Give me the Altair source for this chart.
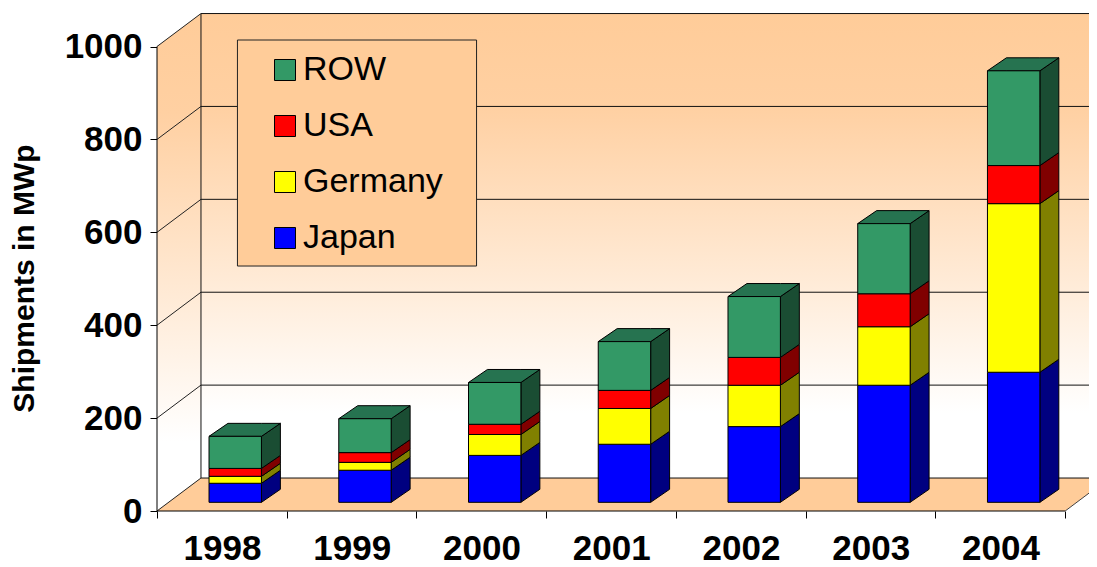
import altair as alt
import pandas as pd

years = ["1998", "1999", "2000", "2001", "2002", "2003", "2004"]
series = ["Japan", "Germany", "USA", "ROW"]
japan = [41, 69, 101, 125, 163, 252, 280]
germany = [15, 17, 45, 77, 89, 126, 363]
usa = [17, 21, 22, 39, 60, 71, 82]
row = [69, 73, 90, 105, 131, 151, 204]
y_ticks = [0, 200, 400, 600, 800, 1000]
legend_order = ["ROW", "USA", "Germany", "Japan"]
front_colors = ["#339966", "#FF0000", "#FFFF00", "#0000FF"]
side_colors = ["#1A4D33", "#800000", "#808000", "#000080"]
top_color = "#267350"
peach = "#FFCC99"

# 3-D projection expressed in data units
WALL_DX, WALL_DY = 0.339, 71
BAR_LEFT, BAR_W, BAR_LIFT = 0.401, 0.404, 18.7
BAR_DX, BAR_DY = 0.146, 28
PLOT_W = 932
X_MAX, Y_MAX = PLOT_W / 129.74, 1070
N = len(years)

sx = alt.Scale(domain=[0, X_MAX], nice=False, zero=False)
sy = alt.Scale(domain=[0, Y_MAX], nice=False, zero=False)

y_axis = alt.Axis(
    values=y_ticks, domain=False, grid=False, tickSize=7, tickColor="black", tickWidth=1,
    format="d",
    labelFont="Liberation Sans", labelFontWeight="bold", labelFontSize=35, labelColor="black",
    labelPadding=8, labelFlush=False, labelBound=False, labelOverlap=False,
    title="Shipments in MWp", titleFont="Liberation Sans", titleFontWeight="bold",
    titleFontSize=30, titleColor="black", titleX=-118, titleY=264, titleAngle=-90,
)
x_axis = alt.Axis(
    values=list(range(N + 1)), domain=False, grid=False, tickSize=7, tickColor="black", tickWidth=1,
    labelFont="Liberation Sans", labelFontWeight="bold", labelFontSize=35, labelColor="black",
    labelOffset=65, labelPadding=13, labelFlush=False, labelBound=False, labelOverlap=False,
    labelExpr="datum.value < %d ? '' + (%s + datum.value) : ''" % (N, years[0]),
    title="",
)
X = lambda f="x": alt.X(f"{f}:Q", scale=sx, axis=x_axis)
Y = lambda f="y": alt.Y(f"{f}:Q", scale=sy, axis=y_axis, stack=None)

# stacked faces
values = dict(zip(series, [japan, germany, usa, row]))
front, side, top = [], [], []
for i, yr in enumerate(years):
    base = BAR_LIFT
    xl = i + BAR_LEFT
    xr = xl + BAR_W
    for s in series:
        t = base + values[s][i]
        front.append(dict(x=xl, x2=xr, y=base, y2=t, series=s))
        key = f"{yr}-{s}"
        side.append(dict(x=xr, y=base, y2=t, series=s, key=key))
        side.append(dict(x=xr + BAR_DX, y=base + BAR_DY, y2=t + BAR_DY, series=s, key=key))
        base = t
    top += [
        dict(x=xl, y=base, y2=base, key=yr),
        dict(x=xl + BAR_DX, y=base, y2=base + BAR_DY, key=yr),
        dict(x=xr, y=base, y2=base + BAR_DY, key=yr),
        dict(x=xr + BAR_DX, y=base + BAR_DY, y2=base + BAR_DY, key=yr),
    ]

grad = alt.LinearGradient(
    gradient="linear", x1=0, x2=0, y1=0, y2=1,
    stops=[alt.GradientStop(offset=0, color=peach),
           alt.GradientStop(offset=0.2, color="#FFD0A2"),
           alt.GradientStop(offset=0.86, color="#FFFFFF"),
           alt.GradientStop(offset=1, color="#FFFFFF")],
)

wall_left = alt.Chart(pd.DataFrame([dict(x=0, y=0, y2=1000), dict(x=WALL_DX, y=WALL_DY, y2=1000 + WALL_DY)])).mark_area(color=grad).encode(
    x=X(), y=Y(), y2="y2:Q")
wall_back = alt.Chart(pd.DataFrame([dict(x=WALL_DX, x2=X_MAX, y=WALL_DY, y2=Y_MAX)])).mark_rect(color=grad).encode(
    x=X(), x2="x2:Q", y=Y(), y2="y2:Q")
floor = alt.Chart(pd.DataFrame([
    dict(x=0, y=0, y2=0), dict(x=WALL_DX, y=0, y2=WALL_DY),
    dict(x=N, y=0, y2=WALL_DY), dict(x=N + WALL_DX, y=WALL_DY, y2=WALL_DY)])).mark_area(color=peach, clip=True).encode(
    x=X(), y=Y(), y2="y2:Q")

grid = alt.Chart(pd.DataFrame([dict(x=WALL_DX, x2=X_MAX, y=v + WALL_DY) for v in y_ticks])).mark_rule(color="#111111", strokeWidth=1).encode(
    x=X(), x2="x2:Q", y=Y())
conn = []
for v in y_ticks:
    conn += [dict(x=0, y=v, key=v), dict(x=WALL_DX, y=v + WALL_DY, key=v)]
connect = alt.Chart(pd.DataFrame(conn)).mark_line(color="#222222", strokeWidth=1).encode(
    x=X(), y=Y(), detail="key:N")
slant = alt.Chart(pd.DataFrame([dict(x=N, y=0), dict(x=N + WALL_DX, y=WALL_DY)])).mark_line(color="#444444", strokeWidth=1, clip=True).encode(
    x=X(), y=Y())
wall_v = alt.Chart(pd.DataFrame([dict(x=WALL_DX, y=WALL_DY, y2=Y_MAX)])).mark_rule(color="#111111", strokeWidth=1).encode(
    x=X(), y=Y(), y2="y2:Q")
axis_y = alt.Chart(pd.DataFrame([dict(x=0, y=0, y2=1000)])).mark_rule(color="black", strokeWidth=1).encode(
    x=X(), y=Y(), y2="y2:Q")
axis_x = alt.Chart(pd.DataFrame([dict(x=0, x2=N, y=0)])).mark_rule(color="black", strokeWidth=1).encode(
    x=X(), x2="x2:Q", y=Y())

legend_box = alt.Chart(pd.DataFrame([dict(x=0.62, x2=2.463, y=527.4, y2=1014)])).mark_rect(
    color=peach, stroke="#222222", strokeWidth=1).encode(x=X(), x2="x2:Q", y=Y(), y2="y2:Q")

legend = alt.Legend(
    title=None, orient="none", legendX=111, legendY=39, zindex=2,
    padding=0,
    symbolType="square", symbolSize=441, symbolStrokeColor="black", symbolStrokeWidth=1,
    symbolOpacity=1, labelOffset=1,
    labelFont="Liberation Sans", labelFontSize=34, labelColor="black", labelLimit=300,
    rowPadding=22,
)
faces_front = alt.Chart(pd.DataFrame(front)).mark_rect(stroke="black", strokeWidth=1, opacity=1).encode(
    x=X(), x2="x2:Q", y=Y(), y2="y2:Q",
    color=alt.Color("series:N", sort=None, legend=legend,
                    scale=alt.Scale(domain=legend_order, range=front_colors)))
faces_side = alt.Chart(pd.DataFrame(side)).mark_area(stroke="black", strokeWidth=1, opacity=1).encode(
    x=X(), y=Y(), y2="y2:Q", detail="key:N",
    color=alt.Color("series:N", sort=None, legend=None,
                    scale=alt.Scale(domain=legend_order, range=side_colors)))
faces_top = alt.Chart(pd.DataFrame(top)).mark_area(color=top_color, stroke="black", strokeWidth=1, opacity=1).encode(
    x=X(), y=Y(), y2="y2:Q", detail="key:N")

chart = alt.layer(
    wall_left, wall_back, floor, grid, connect, wall_v, slant, axis_y, axis_x,
    legend_box, faces_side, faces_top, faces_front,
).resolve_scale(color="independent").properties(
    width=PLOT_W, height=497,
    autosize=alt.AutoSizeParams(type="none", contains="content"),
    padding={"left": 149, "top": 6, "right": 0, "bottom": 56},
    background="white",
).configure_view(stroke=None)

chart.save("out.html", embed_options={"renderer": "svg", "actions": False})
